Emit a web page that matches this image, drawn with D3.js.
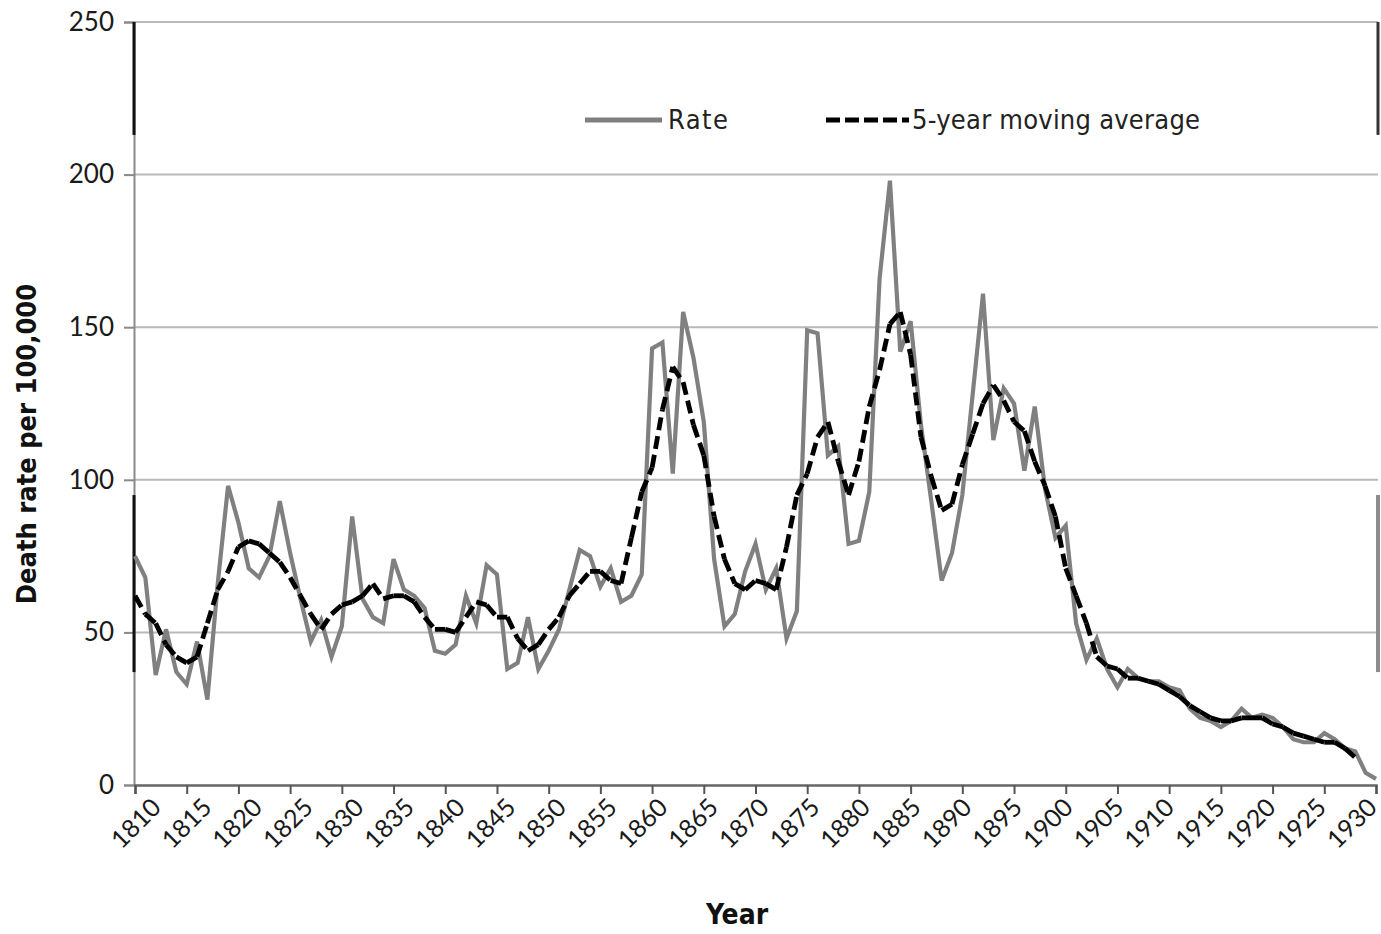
<!DOCTYPE html>
<html>
<head>
<meta charset="utf-8">
<script src="https://cdn.jsdelivr.net/npm/d3@7"></script>
<style>
  body { margin: 0; background: #fff; }
  svg { display: block; }
</style>
</head>
<body>
<svg id="chart" width="1381" height="934"></svg>
<script>
// Annual death rate per 100,000, one value per year starting in 1810
const firstYear = 1810;
const rate = [
  75, 68, 36, 51, 37, 33, 47, 28, 66, 98,        // 1810-1819
  86, 71, 68, 75, 93, 76, 61, 47, 54, 42,        // 1820-1829
  52, 88, 61, 55, 53, 74, 64, 62, 58, 44,        // 1830-1839
  43, 46, 62, 53, 72, 69, 38, 40, 55, 38,        // 1840-1849
  44, 51, 64, 77, 75, 65, 71, 60, 62, 69,        // 1850-1859
  143, 145, 102, 155, 140, 119, 74, 52, 56, 70,  // 1860-1869
  79, 64, 71, 48, 57, 149, 148, 108, 111, 79,    // 1870-1879
  80, 96, 166, 198, 142, 152, 118, 93, 67, 76,   // 1880-1889
  95, 128, 161, 113, 130, 125, 103, 124, 97, 81, // 1890-1899
  85, 53, 41, 48, 38, 32, 38, 35, 34, 34,        // 1900-1909
  32, 31, 25, 22, 21, 19, 21, 25, 22, 23,        // 1910-1919
  22, 19, 15, 14, 14, 17, 15, 12, 11, 4,         // 1920-1929
  2                                              // 1930
];

// 5-year moving average, 1810-1928
const movingAvg = [
  62, 56, 53, 46, 42, 40, 42, 53, 64, 70,        // 1810-1819
  78, 80, 79, 76, 73, 68, 62, 56, 51, 56,        // 1820-1829
  59, 60, 62, 66, 61, 62, 62, 60, 55, 51,        // 1830-1839
  51, 50, 55, 60, 59, 55, 55, 48, 44, 46,        // 1840-1849
  51, 55, 62, 66, 70, 70, 67, 66, 81, 96,        // 1850-1859
  104, 123, 137, 132, 118, 108, 88, 74, 66, 64,  // 1860-1869
  67, 66, 64, 78, 95, 102, 114, 119, 106, 95,    // 1870-1879
  106, 124, 136, 151, 155, 141, 114, 101, 90, 92,// 1880-1889
  105, 115, 125, 131, 126, 119, 116, 106, 98, 88,// 1890-1899
  71, 62, 53, 42, 39, 38, 35, 35, 34, 33,        // 1900-1909
  31, 29, 26, 24, 22, 21, 21, 22, 22, 22,        // 1910-1919
  20, 19, 17, 16, 15, 14, 14, 12, 9              // 1920-1928
];

const yTicks = [0, 50, 100, 150, 200, 250];
const xTicks = [1810, 1815, 1820, 1825, 1830, 1835, 1840, 1845, 1850, 1855, 1860,
                1865, 1870, 1875, 1880, 1885, 1890, 1895, 1900, 1905, 1910, 1915,
                1920, 1925, 1930];
const seriesNames = ["Rate", "5-year moving average"];

const svg = d3.select("#chart");
const plotLeft = 135, plotRight = 1376, plotTop = 22, plotBottom = 785;

const x = d3.scaleLinear().domain([1810, 1930]).range([plotLeft, plotRight]);
const y = d3.scaleLinear().domain([0, 250]).range([plotBottom, plotTop]);
// slanted year labels sit on a slightly tighter spacing than the ticks
const labelX = d3.scaleLinear().domain([1810, 1930]).range([137, 1353]);

const tickFont = "Lato, 'Open Sans', sans-serif";
const titleFont = "'Liberation Sans Narrow', 'DejaVu Sans Condensed', 'Liberation Sans', sans-serif";

// horizontal gridlines
svg.append("g")
  .selectAll("line")
  .data(yTicks.filter(d => d > 0))
  .join("line")
  .attr("x1", plotLeft).attr("x2", plotRight + 2)
  .attr("y1", d => y(d)).attr("y2", d => y(d))
  .attr("stroke", "#b9b9b9")
  .attr("stroke-width", 2);

// y axis
const yAxis = svg.append("g")
  .attr("transform", `translate(${plotLeft - 1},0)`)
  .call(d3.axisLeft(y).tickValues(yTicks).tickSize(10).tickPadding(10));
yAxis.select(".domain").attr("stroke", "#8a8a8a").attr("stroke-width", 2);
yAxis.selectAll(".tick line").attr("stroke", "#8a8a8a").attr("stroke-width", 2);
yAxis.selectAll(".tick text")
  .attr("font-family", tickFont)
  .attr("font-size", 26)
  .attr("fill", "#1a1a1a");

// dark segments along the frame edges
svg.append("g").selectAll("line")
  .data([[250, 213], [95, 37]])
  .join("line")
  .attr("x1", plotLeft - 1).attr("x2", plotLeft - 1)
  .attr("y1", d => y(d[0])).attr("y2", d => y(d[1]))
  .attr("stroke", "#111").attr("stroke-width", 3);
svg.append("g").selectAll("line")
  .data([[250, 213], [95, 37]])
  .join("line")
  .attr("x1", plotRight + 2).attr("x2", plotRight + 2)
  .attr("y1", d => y(d[0])).attr("y2", d => y(d[1]))
  .attr("stroke", (d, i) => i === 0 ? "#333" : "#8c8c8c")
  .attr("stroke-width", (d, i) => i === 0 ? 3 : 4);

// x axis
const xAxis = svg.append("g")
  .attr("transform", `translate(0,${plotBottom})`)
  .call(d3.axisBottom(x).tickValues(xTicks).tickSize(9).tickFormat(d3.format("d")));
xAxis.select(".domain").attr("stroke", "#666").attr("stroke-width", 2.5);
xAxis.selectAll(".tick line").attr("stroke", "#555").attr("stroke-width", 2);
xAxis.selectAll(".tick text")
  .attr("font-family", tickFont)
  .attr("font-size", 25)
  .attr("fill", "#1a1a1a")
  .attr("text-anchor", "middle")
  .attr("dy", null)
  .attr("y", null)
  .attr("transform", d => `translate(${labelX(d) - x(d)},40) rotate(-45)`)
  .attr("dominant-baseline", "middle");

// rate line
const line = d3.line()
  .x((d, i) => x(firstYear + i))
  .y(d => y(d));

svg.append("path")
  .datum(rate)
  .attr("fill", "none")
  .attr("stroke", "#808080")
  .attr("stroke-width", 4.2)
  .attr("stroke-linejoin", "miter")
  .attr("d", line);

// moving average: each yearly step drawn as its own dashed segment
const maSegments = d3.pairs(movingAvg.map((v, i) => [firstYear + i, v]));
svg.append("g")
  .selectAll("path")
  .data(maSegments)
  .join("path")
  .attr("fill", "none")
  .attr("stroke", "#000")
  .attr("stroke-width", 4.8)
  .attr("stroke-dasharray", "13,6")
  .attr("d", d => d3.line().x(p => x(p[0])).y(p => y(p[1]))(d));

// legend
const legend = svg.append("g").attr("font-family", titleFont).attr("font-size", 27).attr("fill", "#222");
legend.append("line")
  .attr("x1", 585).attr("x2", 662).attr("y1", 120).attr("y2", 120)
  .attr("stroke", "#7f7f7f").attr("stroke-width", 5);
legend.append("text").attr("x", 668).attr("y", 129).attr("textLength", 60).text(seriesNames[0]);
legend.append("line")
  .attr("x1", 826).attr("x2", 909).attr("y1", 120).attr("y2", 120)
  .attr("stroke", "#000").attr("stroke-width", 5)
  .attr("stroke-dasharray", "14,5");
legend.append("text").attr("x", 912).attr("y", 129).attr("textLength", 288).text(seriesNames[1]);

// axis titles
svg.append("text")
  .attr("transform", "translate(36,444) rotate(-90)")
  .attr("text-anchor", "middle")
  .attr("font-family", titleFont)
  .attr("font-weight", "bold")
  .attr("font-size", 27)
  .attr("fill", "#111")
  .text("Death rate per 100,000");

svg.append("text")
  .attr("x", 737).attr("y", 924)
  .attr("text-anchor", "middle")
  .attr("font-family", titleFont)
  .attr("font-weight", "bold")
  .attr("font-size", 28)
  .attr("fill", "#111")
  .text("Year");
</script>
</body>
</html>
